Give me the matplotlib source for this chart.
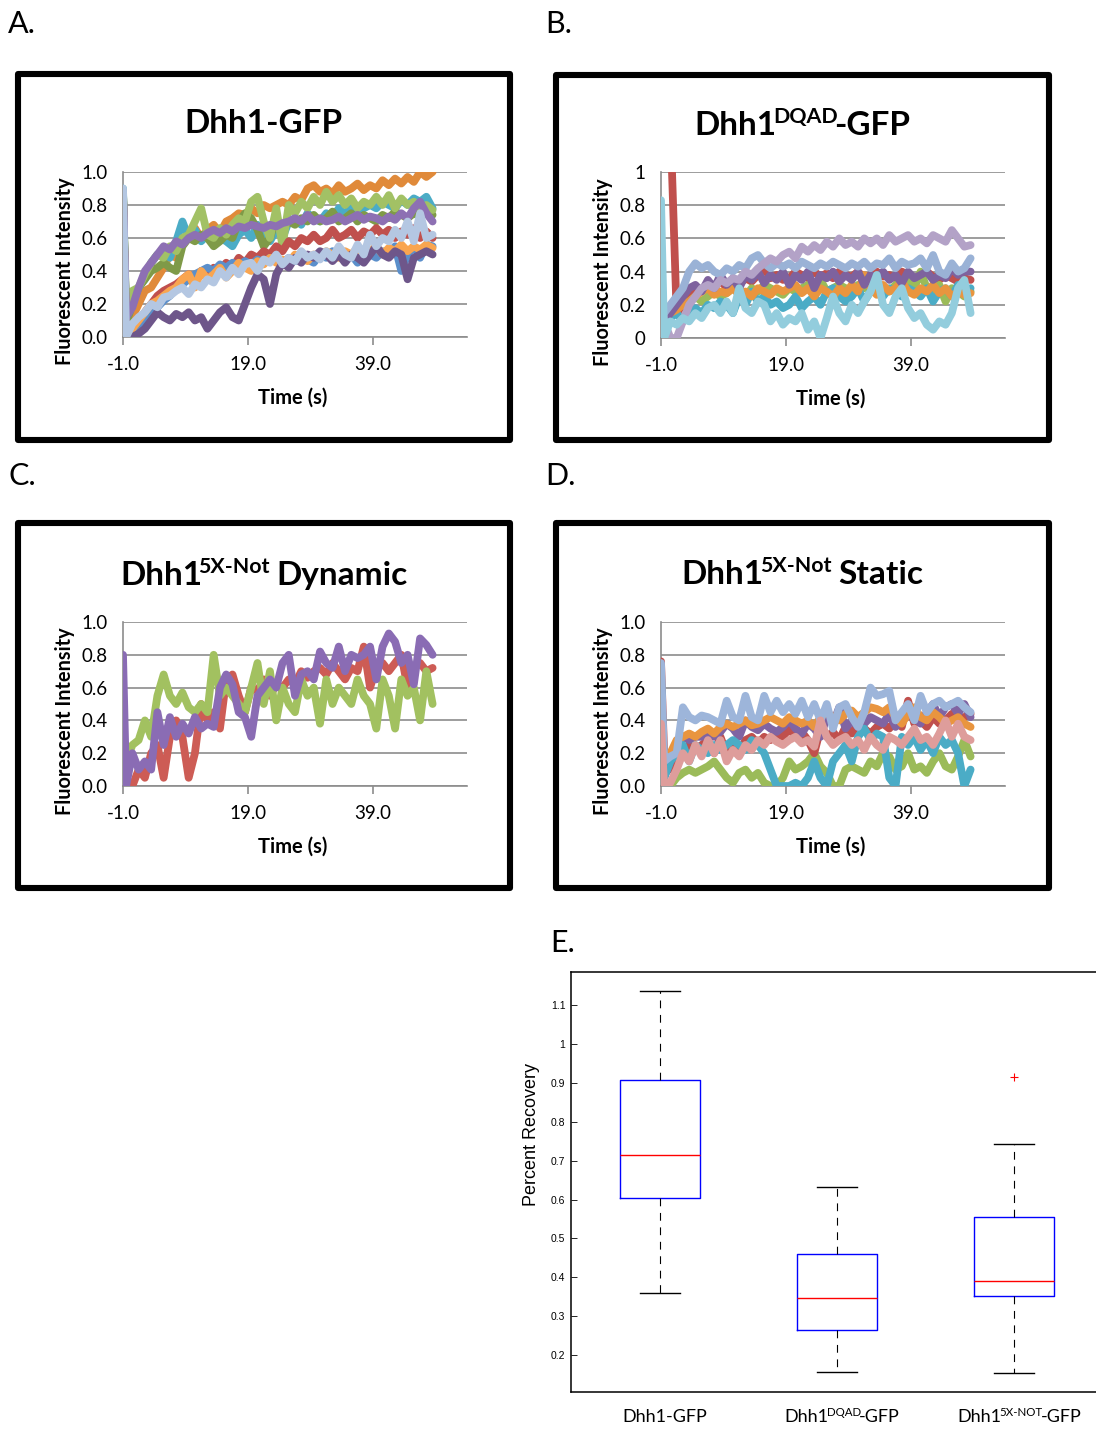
import matplotlib
matplotlib.use('Agg')
import matplotlib.pyplot as plt
from matplotlib.patches import Rectangle

plt.rcParams['font.family'] = ['Lato', 'DejaVu Sans']

W, H, DPI = 1096, 1429, 100

# FRAP time points (s): pre-bleach frame, then one frame per second
time = [-1.0] + [k - 0.5 for k in range(50)]
x_ticks = [-1, 19, 39]
x_tick_labels = ['-1.0', '19.0', '39.0']
y_ticks = [0.0, 0.2, 0.4, 0.6, 0.8, 1.0]

# --- A. Dhh1-GFP traces ---
a_orange = [0.88,
            0.05, 0.12, 0.20, 0.28, 0.30, 0.36, 0.42, 0.50, 0.48, 0.56,
            0.62, 0.66, 0.60, 0.65, 0.68, 0.63, 0.70, 0.72, 0.75, 0.74,
            0.78, 0.75, 0.80, 0.78, 0.80, 0.82, 0.80, 0.85, 0.83, 0.90,
            0.92, 0.88, 0.90, 0.87, 0.92, 0.88, 0.90, 0.93, 0.89, 0.92,
            0.90, 0.95, 0.92, 0.96, 0.93, 0.97, 0.94, 1.00, 0.97, 1.00]
a_teal = [0.90,
          0.10, 0.22, 0.30, 0.35, 0.45, 0.50, 0.52, 0.48, 0.58, 0.70,
          0.60, 0.65, 0.58, 0.62, 0.56, 0.60, 0.58, 0.55, 0.62, 0.65,
          0.60, 0.68, 0.62, 0.58, 0.65, 0.60, 0.70, 0.72, 0.68, 0.75,
          0.72, 0.70, 0.75, 0.72, 0.78, 0.74, 0.80, 0.76, 0.78, 0.80,
          0.78, 0.82, 0.80, 0.78, 0.83, 0.80, 0.84, 0.82, 0.85, 0.78]
a_olive = [0.88,
           0.08, 0.20, 0.30, 0.35, 0.40, 0.42, 0.45, 0.42, 0.40, 0.55,
           0.60, 0.58, 0.62, 0.60, 0.55, 0.58, 0.62, 0.60, 0.70, 0.75,
           0.72, 0.65, 0.55, 0.60, 0.72, 0.65, 0.70, 0.68, 0.72, 0.70,
           0.74, 0.70, 0.72, 0.76, 0.70, 0.72, 0.75, 0.70, 0.74, 0.72,
           0.70, 0.74, 0.72, 0.76, 0.74, 0.72, 0.75, 0.73, 0.76, 0.74]
a_green = [0.88,
           0.15, 0.28, 0.30, 0.38, 0.45, 0.50, 0.48, 0.55, 0.52, 0.60,
           0.62, 0.70, 0.78, 0.62, 0.60, 0.66, 0.62, 0.68, 0.72, 0.70,
           0.82, 0.85, 0.70, 0.60, 0.78, 0.55, 0.80, 0.75, 0.82, 0.78,
           0.85, 0.80, 0.88, 0.82, 0.86, 0.80, 0.84, 0.78, 0.82, 0.80,
           0.85, 0.80, 0.86, 0.78, 0.84, 0.80, 0.82, 0.78, 0.80, 0.77]
a_red = [0.85,
         0.00, 0.05, 0.10, 0.15, 0.20, 0.25, 0.28, 0.30, 0.32, 0.35,
         0.38, 0.35, 0.40, 0.38, 0.42, 0.40, 0.45, 0.42, 0.48, 0.45,
         0.50, 0.48, 0.52, 0.50, 0.55, 0.52, 0.58, 0.55, 0.60, 0.58,
         0.62, 0.58, 0.60, 0.65, 0.60, 0.62, 0.65, 0.60, 0.64, 0.62,
         0.66, 0.62, 0.65, 0.60, 0.64, 0.62, 0.66, 0.60, 0.64, 0.60]
a_blue = [0.88,
          0.00, 0.02, 0.05, 0.10, 0.15, 0.18, 0.22, 0.25, 0.30, 0.32,
          0.35, 0.38, 0.40, 0.42, 0.40, 0.44, 0.42, 0.45, 0.43, 0.46,
          0.44, 0.47, 0.45, 0.48, 0.46, 0.44, 0.48, 0.46, 0.50, 0.47,
          0.45, 0.50, 0.48, 0.52, 0.50, 0.47, 0.50, 0.45, 0.52, 0.50,
          0.48, 0.52, 0.50, 0.55, 0.40, 0.50, 0.55, 0.48, 0.56, 0.55]
a_lorange = [0.85,
             0.00, 0.05, 0.10, 0.15, 0.20, 0.22, 0.25, 0.28, 0.30, 0.35,
             0.38, 0.30, 0.40, 0.35, 0.38, 0.42, 0.36, 0.40, 0.45, 0.42,
             0.40, 0.46, 0.44, 0.48, 0.45, 0.47, 0.45, 0.50, 0.48, 0.46,
             0.50, 0.48, 0.52, 0.50, 0.48, 0.52, 0.50, 0.54, 0.50, 0.52,
             0.55, 0.50, 0.54, 0.52, 0.56, 0.52, 0.55, 0.53, 0.56, 0.54]
a_dpurple = [0.85,
             0.00, 0.00, 0.02, 0.05, 0.10, 0.15, 0.12, 0.10, 0.14, 0.12,
             0.15, 0.10, 0.12, 0.05, 0.10, 0.15, 0.18, 0.12, 0.10, 0.20,
             0.30, 0.38, 0.35, 0.20, 0.38, 0.45, 0.42, 0.48, 0.45, 0.50,
             0.48, 0.52, 0.50, 0.46, 0.50, 0.45, 0.50, 0.48, 0.45, 0.50,
             0.55, 0.50, 0.48, 0.52, 0.50, 0.35, 0.48, 0.50, 0.52, 0.50]
a_purple = [0.85,
            0.12, 0.18, 0.30, 0.40, 0.45, 0.50, 0.55, 0.53, 0.58, 0.56,
            0.60, 0.62, 0.60, 0.63, 0.65, 0.63, 0.66, 0.64, 0.67, 0.66,
            0.68, 0.67, 0.66, 0.68, 0.67, 0.69, 0.70, 0.72, 0.70, 0.74,
            0.70, 0.72, 0.70, 0.71, 0.73, 0.70, 0.72, 0.74, 0.71, 0.73,
            0.72, 0.70, 0.73, 0.71, 0.75, 0.72, 0.78, 0.82, 0.75, 0.70]
a_lblue = [0.90,
           0.00, 0.08, 0.12, 0.15, 0.20, 0.18, 0.24, 0.25, 0.28, 0.30,
           0.26, 0.32, 0.30, 0.35, 0.33, 0.40, 0.36, 0.42, 0.38, 0.44,
           0.45, 0.40, 0.47, 0.45, 0.50, 0.44, 0.48, 0.46, 0.52, 0.48,
           0.50, 0.47, 0.52, 0.48, 0.55, 0.50, 0.48, 0.56, 0.50, 0.62,
           0.55, 0.60, 0.58, 0.65, 0.60, 0.70, 0.58, 0.75, 0.60, 0.62]

# --- B. Dhh1 DQAD-GFP traces ---
b_red = [1.30, 1.30, 1.30, 0.15,
         0.20, 0.25, 0.30, 0.28, 0.32, 0.30, 0.35,
         0.30, 0.35, 0.32, 0.36, 0.34, 0.38, 0.42, 0.36, 0.38, 0.35,
         0.36, 0.40, 0.38, 0.36, 0.40, 0.37, 0.39, 0.36, 0.40, 0.38,
         0.37, 0.40, 0.36, 0.38, 0.40, 0.37, 0.38, 0.36, 0.40, 0.38,
         0.36, 0.38, 0.40, 0.37, 0.35, 0.38, 0.36, 0.34, 0.36, 0.35]
b_green = [0.22,
           0.10, 0.15, 0.18, 0.20, 0.22, 0.25, 0.22, 0.25, 0.28, 0.25,
           0.27, 0.30, 0.28, 0.25, 0.30, 0.28, 0.32, 0.30, 0.28, 0.26,
           0.30, 0.28, 0.30, 0.32, 0.30, 0.35, 0.28, 0.30, 0.32, 0.30,
           0.28, 0.32, 0.30, 0.35, 0.32, 0.30, 0.28, 0.32, 0.30, 0.35,
           0.30, 0.40, 0.30, 0.28, 0.32, 0.22, 0.30, 0.28, 0.25, 0.28]
b_teal = [0.22,
          0.10, 0.12, 0.15, 0.10, 0.12, 0.18, 0.15, 0.20, 0.18, 0.22,
          0.20, 0.15, 0.25, 0.20, 0.28, 0.22, 0.25, 0.20, 0.22, 0.18,
          0.20, 0.25, 0.18, 0.22, 0.25, 0.20, 0.28, 0.30, 0.25, 0.22,
          0.25, 0.30, 0.22, 0.28, 0.32, 0.25, 0.30, 0.28, 0.25, 0.30,
          0.28, 0.25, 0.30, 0.22, 0.28, 0.30, 0.25, 0.32, 0.28, 0.30]
b_orange = [0.28,
            0.18, 0.15, 0.17, 0.20, 0.22, 0.25, 0.28, 0.30, 0.26, 0.28,
            0.27, 0.30, 0.26, 0.28, 0.25, 0.30, 0.28, 0.26, 0.30, 0.28,
            0.30, 0.32, 0.27, 0.30, 0.25, 0.30, 0.28, 0.25, 0.30, 0.27,
            0.32, 0.28, 0.38, 0.30, 0.26, 0.32, 0.28, 0.30, 0.34, 0.28,
            0.26, 0.30, 0.28, 0.32, 0.27, 0.30, 0.25, 0.28, 0.26, 0.27]
b_purple = [0.20,
            0.10, 0.15, 0.20, 0.25, 0.30, 0.32, 0.28, 0.35, 0.30, 0.38,
            0.32, 0.36, 0.30, 0.38, 0.35, 0.40, 0.33, 0.38, 0.35, 0.40,
            0.32, 0.38, 0.35, 0.40, 0.30, 0.38, 0.36, 0.40, 0.34, 0.38,
            0.35, 0.40, 0.32, 0.38, 0.36, 0.40, 0.35, 0.38, 0.33, 0.40,
            0.36, 0.38, 0.40, 0.35, 0.38, 0.36, 0.42, 0.38, 0.40, 0.40]
b_periwinkle = [0.30,
                0.15, 0.20, 0.25, 0.30, 0.40, 0.45, 0.42, 0.44, 0.40, 0.38,
                0.42, 0.40, 0.44, 0.42, 0.48, 0.50, 0.45, 0.42, 0.45, 0.43,
                0.45, 0.42, 0.46, 0.44, 0.42, 0.45, 0.43, 0.46, 0.44, 0.42,
                0.45, 0.43, 0.46, 0.42, 0.45, 0.44, 0.48, 0.42, 0.46, 0.44,
                0.45, 0.48, 0.42, 0.50, 0.40, 0.38, 0.45, 0.40, 0.42, 0.48]
b_lavender = [0.25,
              0.10, 0.00, 0.00, 0.10, 0.20, 0.25, 0.30, 0.32, 0.30, 0.35,
              0.33, 0.36, 0.35, 0.40, 0.38, 0.42, 0.45, 0.48, 0.46, 0.50,
              0.52, 0.48, 0.55, 0.52, 0.56, 0.53, 0.58, 0.55, 0.60, 0.56,
              0.58, 0.55, 0.60, 0.57, 0.60, 0.56, 0.62, 0.58, 0.60, 0.62,
              0.58, 0.60, 0.57, 0.62, 0.60, 0.58, 0.65, 0.60, 0.55, 0.56]
b_sky = [0.83,
         0.00, 0.10, 0.08, 0.12, 0.10, 0.15, 0.12, 0.18, 0.20, 0.15,
         0.22, 0.15, 0.30, 0.18, 0.15, 0.22, 0.20, 0.10, 0.15, 0.08,
         0.12, 0.10, 0.15, 0.05, 0.10, 0.00, 0.12, 0.25, 0.15, 0.10,
         0.20, 0.15, 0.22, 0.28, 0.38, 0.20, 0.15, 0.25, 0.30, 0.18,
         0.12, 0.15, 0.08, 0.05, 0.10, 0.08, 0.15, 0.30, 0.35, 0.15]

# --- C. Dhh1 5X-Not dynamic traces ---
c_red = [0.15,
         0.00, 0.00, 0.10, 0.05, 0.20, 0.25, 0.05, 0.30, 0.40, 0.30,
         0.05, 0.20, 0.50, 0.40, 0.45, 0.35, 0.65, 0.68, 0.55, 0.45,
         0.60, 0.58, 0.65, 0.55, 0.62, 0.60, 0.65, 0.62, 0.70, 0.66,
         0.70, 0.72, 0.68, 0.75, 0.70, 0.65, 0.72, 0.70, 0.85, 0.60,
         0.72, 0.75, 0.70, 0.75, 0.80, 0.60, 0.72, 0.75, 0.70, 0.72]
c_green = [0.20,
           0.15, 0.25, 0.28, 0.40, 0.30, 0.55, 0.68, 0.55, 0.50, 0.57,
           0.48, 0.45, 0.50, 0.45, 0.80, 0.55, 0.60, 0.55, 0.50, 0.45,
           0.60, 0.75, 0.50, 0.70, 0.40, 0.60, 0.50, 0.45, 0.65, 0.55,
           0.60, 0.38, 0.65, 0.50, 0.60, 0.55, 0.50, 0.65, 0.55, 0.50,
           0.35, 0.65, 0.55, 0.35, 0.65, 0.55, 0.60, 0.40, 0.70, 0.50]
c_purple = [0.80,
            0.00, 0.20, 0.10, 0.15, 0.10, 0.45, 0.25, 0.42, 0.30, 0.38,
            0.32, 0.42, 0.35, 0.38, 0.36, 0.60, 0.68, 0.62, 0.45, 0.42,
            0.30, 0.55, 0.60, 0.65, 0.60, 0.75, 0.80, 0.55, 0.68, 0.70,
            0.65, 0.82, 0.75, 0.72, 0.85, 0.70, 0.80, 0.78, 0.80, 0.85,
            0.65, 0.85, 0.93, 0.88, 0.75, 0.80, 0.62, 0.90, 0.86, 0.80]

# --- D. Dhh1 5X-Not static traces ---
d_green = [0.20,
           0.00, 0.00, 0.05, 0.08, 0.10, 0.08, 0.10, 0.12, 0.15, 0.10,
           0.05, 0.02, 0.08, 0.10, 0.05, 0.08, 0.02, 0.00, 0.00, 0.05,
           0.15, 0.10, 0.12, 0.15, 0.20, 0.12, 0.08, 0.00, 0.00, 0.10,
           0.12, 0.10, 0.08, 0.15, 0.12, 0.20, 0.18, 0.10, 0.12, 0.20,
           0.10, 0.12, 0.08, 0.15, 0.20, 0.12, 0.10, 0.18, 0.28, 0.18]
d_red = [0.76,
         0.20, 0.10, 0.18, 0.22, 0.25, 0.22, 0.25, 0.28, 0.20, 0.30,
         0.20, 0.25, 0.20, 0.28, 0.30, 0.26, 0.30, 0.28, 0.32, 0.30,
         0.35, 0.30, 0.33, 0.28, 0.20, 0.35, 0.30, 0.33, 0.28, 0.36,
         0.32, 0.38, 0.35, 0.32, 0.36, 0.38, 0.35, 0.40, 0.36, 0.52,
         0.38, 0.40, 0.36, 0.42, 0.38, 0.40, 0.44, 0.40, 0.42, 0.44]
d_purple = [0.30,
            0.05, 0.15, 0.20, 0.30, 0.28, 0.30, 0.30, 0.32, 0.30, 0.33,
            0.38, 0.35, 0.30, 0.40, 0.36, 0.34, 0.38, 0.35, 0.33, 0.36,
            0.40, 0.35, 0.32, 0.38, 0.35, 0.30, 0.42, 0.38, 0.48, 0.35,
            0.40, 0.36, 0.38, 0.42, 0.40, 0.38, 0.44, 0.36, 0.40, 0.45,
            0.42, 0.38, 0.45, 0.50, 0.42, 0.48, 0.50, 0.44, 0.50, 0.42]
d_orange = [0.20,
            0.15, 0.20, 0.28, 0.30, 0.32, 0.30, 0.33, 0.35, 0.32, 0.36,
            0.38, 0.36, 0.38, 0.40, 0.37, 0.38, 0.40, 0.42, 0.40, 0.38,
            0.42, 0.40, 0.38, 0.40, 0.36, 0.42, 0.45, 0.42, 0.40, 0.44,
            0.46, 0.42, 0.45, 0.48, 0.47, 0.45, 0.48, 0.42, 0.38, 0.44,
            0.48, 0.42, 0.40, 0.45, 0.42, 0.38, 0.40, 0.42, 0.38, 0.36]
d_teal = [0.70,
          0.05, 0.15, 0.20, 0.25, 0.15, 0.25, 0.22, 0.20, 0.25, 0.22,
          0.25, 0.28, 0.25, 0.22, 0.28, 0.25, 0.20, 0.10, 0.00, 0.00,
          0.00, 0.02, 0.00, 0.05, 0.15, 0.05, 0.00, 0.15, 0.20, 0.25,
          0.15, 0.30, 0.35, 0.28, 0.32, 0.30, 0.05, 0.00, 0.30, 0.25,
          0.30, 0.22, 0.28, 0.20, 0.30, 0.25, 0.28, 0.20, 0.00, 0.10]
d_periwinkle = [0.75,
                0.15, 0.18, 0.20, 0.48, 0.42, 0.40, 0.43, 0.42, 0.40, 0.38,
                0.52, 0.42, 0.40, 0.55, 0.42, 0.40, 0.55, 0.45, 0.52, 0.45,
                0.50, 0.44, 0.52, 0.42, 0.50, 0.40, 0.50, 0.35, 0.48, 0.50,
                0.42, 0.36, 0.45, 0.60, 0.55, 0.56, 0.58, 0.40, 0.45, 0.50,
                0.40, 0.55, 0.45, 0.50, 0.52, 0.48, 0.50, 0.52, 0.48, 0.45]
d_pink = [0.38,
          0.00, 0.02, 0.10, 0.20, 0.15, 0.25, 0.18, 0.28, 0.20, 0.28,
          0.15, 0.22, 0.18, 0.25, 0.22, 0.28, 0.25, 0.30, 0.27, 0.25,
          0.28, 0.30, 0.26, 0.28, 0.24, 0.40, 0.30, 0.25, 0.28, 0.30,
          0.25, 0.28, 0.22, 0.30, 0.25, 0.22, 0.30, 0.28, 0.25, 0.30,
          0.35, 0.28, 0.30, 0.25, 0.32, 0.40, 0.30, 0.38, 0.30, 0.28]

# --- E. percent recovery box plot summaries ---
groups = ['Dhh1-GFP', 'Dhh1 DQAD-GFP', 'Dhh1 5X-NOT-GFP']
medians = [0.714, 0.346, 0.390]
q1s = [0.604, 0.264, 0.353]
q3s = [0.908, 0.459, 0.554]
whis_lo = [0.360, 0.156, 0.153]
whis_hi = [1.136, 0.631, 0.744]
fliers = [[], [], [0.915]]

fig = plt.figure(figsize=(W / DPI, H / DPI), dpi=DPI)
renderer = fig.canvas.get_renderer()
PT = DPI / 72.0
GRID = '#8c8c8c'
LINE_W = 5.6


def frac(x, y):
    return x / W, 1 - y / H


def px_rect(x0, y0, x1, y1):
    return [x0 / W, 1 - y1 / H, (x1 - x0) / W, (y1 - y0) / H]


def rich_text(xc, y, parts, size, weight='normal'):
    """Centre a run of text pieces on xc (pixels) with baseline y; (text, True) pieces are superscripts."""
    items = []
    for s, sup in parts:
        gap = -0.11 * size * PT
        if s.startswith(' '):
            gap = 0.2 * size * PT
            s = s.strip()
        t = fig.text(0, 0, s, fontsize=size * 0.64 if sup else size,
                     fontweight=weight, ha='left', va='baseline')
        items.append((t, gap, t.get_window_extent(renderer).width, sup))
    items[0] = (items[0][0], 0.0) + items[0][2:]
    total = sum(g + w for _, g, w, _ in items)
    x = xc - total / 2
    for t, g, w, sup in items:
        x += g
        rise = 0.36 * size * PT if sup else 0.0
        t.set_position(frac(x, y - rise))
        x += w


def excel_panel(frame, plot, traces, ylabels, title_parts, title_y):
    fx0, fy0, fx1, fy1 = frame
    fig.patches.append(Rectangle(frac(fx0, fy1), (fx1 - fx0) / W, (fy1 - fy0) / H,
                                 transform=fig.transFigure, fill=False,
                                 ec='black', lw=4.4, joinstyle='round'))
    ax = fig.add_axes(px_rect(*plot))
    for values, color in traces:
        ax.plot(time, values, color=color, lw=LINE_W, zorder=3,
                solid_joinstyle='round', solid_capstyle='round')
    ax.set_xlim(-1, 54)
    ax.set_ylim(0, 1)
    ax.set_yticks(y_ticks, ylabels)
    ax.set_xticks(x_ticks, x_tick_labels)
    ax.yaxis.grid(True, color=GRID, lw=1.2)
    ax.set_axisbelow(True)
    for side in ('top', 'right'):
        ax.spines[side].set_visible(False)
    for side in ('left', 'bottom'):
        ax.spines[side].set_color(GRID)
        ax.spines[side].set_linewidth(1.2)
    ax.tick_params(axis='y', length=0, pad=11, labelsize=13.5)
    ax.tick_params(axis='x', length=6, width=1.2, color=GRID, pad=8, labelsize=13.5)

    px0, py0, px1, py1 = plot
    fig.text(*frac(px0 - 58, (py0 + py1) / 2 + 17), 'Fluorescent Intensity',
             rotation=90, ha='center', va='center', fontsize=14.3, fontweight='bold')
    fig.text(*frac(px0 + 170, py1 + 67), 'Time (s)', ha='center', va='baseline',
             fontsize=14.5, fontweight='bold')
    rich_text((fx0 + fx1) / 2, title_y, title_parts, 24, 'bold')
    return ax


dec_labels = ['0.0', '0.2', '0.4', '0.6', '0.8', '1.0']
short_labels = ['0', '0.2', '0.4', '0.6', '0.8', '1']

excel_panel((17.8, 74, 510, 439.5), (123, 172, 467, 337),
            [(a_orange, '#E08A3A'), (a_teal, '#4BACC6'), (a_olive, '#7F9A48'),
             (a_green, '#A2C165'), (a_red, '#C0504D'), (a_blue, '#5B8FCB'),
             (a_lorange, '#F9A550'), (a_dpurple, '#6E568A'), (a_purple, '#8D70B3'),
             (a_lblue, '#B4C7E2')],
            dec_labels, [('Dhh1-GFP', False)], 133)

excel_panel((556, 75, 1049, 439.5), (661, 172, 1005, 338),
            [(b_red, '#C0504D'), (b_green, '#9BBB59'), (b_teal, '#4BACC6'),
             (b_orange, '#E9953F'), (b_purple, '#7E629E'), (b_periwinkle, '#9AB2D6'),
             (b_lavender, '#B3A2C7'), (b_sky, '#93CDDD')],
            short_labels, [('Dhh1', False), ('DQAD', True), ('-GFP', False)], 135)

excel_panel((17.8, 523, 510, 887.5), (123, 622, 467, 786),
            [(c_red, '#CD5C55'), (c_green, '#A2C160'), (c_purple, '#8A6CB4')],
            dec_labels, [('Dhh1', False), ('5X-Not', True), (' Dynamic', False)], 585)

excel_panel((556, 523, 1049, 887.5), (661, 622, 1005, 786),
            [(d_green, '#9BBB59'), (d_red, '#C0504D'), (d_purple, '#8064A2'),
             (d_orange, '#E9953F'), (d_teal, '#4BACC6'), (d_periwinkle, '#9DB5DA'),
             (d_pink, '#DE9D9B')],
            dec_labels, [('Dhh1', False), ('5X-Not', True), (' Static', False)], 584)

# panel letters
for letter, (x, y) in zip('ABCDE', [(8, 33), (545, 33), (8, 485), (545, 485), (550, 952)]):
    fig.text(*frac(x, y), letter + '.', fontsize=22, ha='left', va='baseline')

# E. box plot of percent recovery
axE = fig.add_axes(px_rect(571, 972, 1103, 1392))
stats = [dict(label=g, med=m, q1=a, q3=b, whislo=lo, whishi=hi, fliers=f)
         for g, m, a, b, lo, hi, f in zip(groups, medians, q1s, q3s, whis_lo, whis_hi, fliers)]
axE.bxp(stats, positions=[1, 2, 3], widths=0.45, capwidths=0.225,
        boxprops=dict(color='#0000FF', lw=1.0),
        medianprops=dict(color='#FF0000', lw=1.0),
        whiskerprops=dict(color='black', lw=0.8, ls=(0, (7, 6))),
        capprops=dict(color='black', lw=1.0),
        flierprops=dict(marker='+', markeredgecolor='#FF0000', markersize=6, markeredgewidth=0.8))
axE.set_xlim(0.5, 3.5)
axE.set_ylim(0.105, 1.185)
e_ticks = [0.2, 0.3, 0.4, 0.5, 0.6, 0.7, 0.8, 0.9, 1.0, 1.1]
axE.set_yticks(e_ticks, ['0.2', '0.3', '0.4', '0.5', '0.6', '0.7', '0.8', '0.9', '1', '1.1'])
axE.set_xticks([1, 2, 3], ['', '', ''])
axE.tick_params(axis='y', direction='in', length=4, width=0.6, labelsize=7.5, pad=4,
                right=True)
axE.tick_params(axis='x', length=0)
for lab in axE.get_yticklabels():
    lab.set_family(['Liberation Sans', 'DejaVu Sans'])
for sp in axE.spines.values():
    sp.set_linewidth(1.1)
fig.text(*frac(531, 1134), 'Percent Recovery', rotation=90, ha='center', va='center',
         fontsize=13, family=['Liberation Sans', 'DejaVu Sans'])

e_labels = [[('Dhh1-GFP', False)],
            [('Dhh1', False), ('DQAD', True), ('-GFP', False)],
            [('Dhh1', False), ('5X-NOT', True), ('-GFP', False)]]
for pos, parts in zip([1, 2, 3], e_labels):
    xpix = axE.transData.transform((pos, 0.2))[0]
    rich_text(xpix + 5, 1422, parts, 13)

fig.savefig('out.png', dpi=DPI)
